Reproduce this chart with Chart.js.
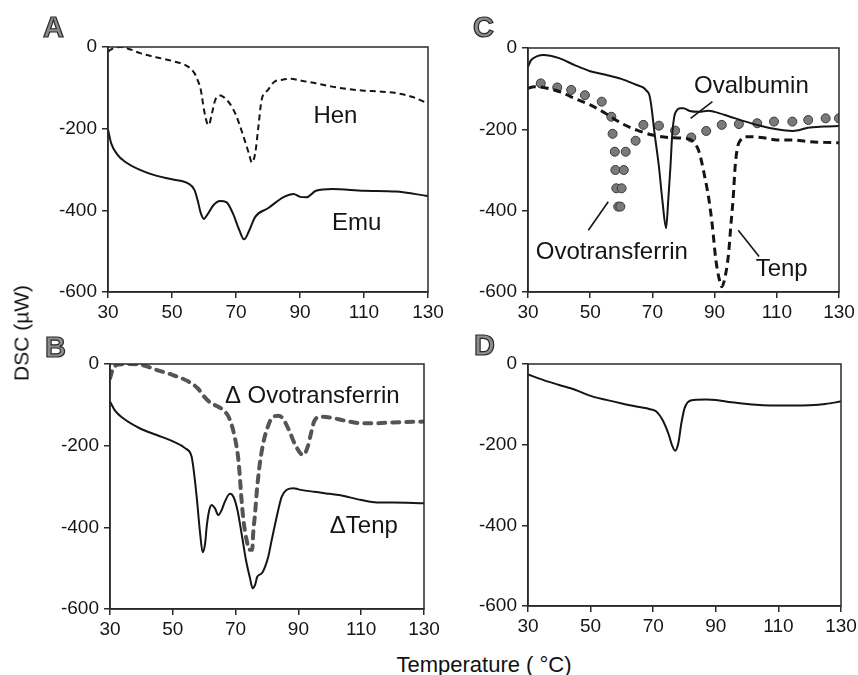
<!DOCTYPE html>
<html><head><meta charset="utf-8">
<script src="https://cdn.jsdelivr.net/npm/chart.js@4.4.1/dist/chart.umd.min.js"></script>
<style>
html,body{margin:0;padding:0;background:#fff;width:858px;height:675px;overflow:hidden;position:relative;font-family:"Liberation Sans",Arial,sans-serif;}
canvas{position:absolute;}
.lt{position:absolute;font:bold 29px "Liberation Sans",Arial,sans-serif;line-height:1;color:#8c8c8c;-webkit-text-stroke:1.2px #2a2a2a;}
.ax{position:absolute;font:21px "Liberation Sans",Arial,sans-serif;line-height:1;color:#111;white-space:nowrap;}
</style></head><body>
<canvas id="cA" width="430" height="310" style="left:30px;top:20px"></canvas>
<canvas id="cB" width="430" height="310" style="left:30px;top:337px"></canvas>
<canvas id="cC" width="430" height="310" style="left:440px;top:20px"></canvas>
<canvas id="cD" width="430" height="310" style="left:440px;top:337px"></canvas>
<div class="lt" style="left:43px;top:13px">A</div>
<div class="lt" style="left:45px;top:333px">B</div>
<div class="lt" style="left:473px;top:13px">C</div>
<div class="lt" style="left:474px;top:331px">D</div>
<div class="ax" style="left:21px;top:333px;transform:translate(-50%,-50%) rotate(-90deg);">DSC (µW)</div>
<div class="ax" style="left:484px;top:654px;font-size:22px;transform:translateX(-50%);">Temperature ( °C)</div>
<script>
// ---- axis ticks ----
const xTicks = [30, 50, 70, 90, 110, 130];
const yTicks = [-600, -400, -200, 0];

// ---- Panel A ----
const henT = [30,31,32,34,37,40,45,50,55,57,58,59,60,61,61.5,62.5,63.5,65,66,68,70,72,74,75,76,77,78,80,82,84,87,90,95,100,105,110,115,120,125,130];
const henV = [-11,-6,-2,0,-6,-15,-25,-34,-48,-64,-81,-105,-154,-187,-191,-162,-130,-119,-122,-138,-167,-211,-260,-283,-260,-195,-130,-105,-85,-81,-78,-82,-89,-97,-103,-107,-109,-113,-122,-138];
const emuT = [30,31,33,35,40,45,50,55,57,58,59,60,61,63,65,67,69,71,72.5,74,76,80,85,88,90,92,95,100,110,120,130];
const emuV = [-202,-236,-264,-279,-301,-315,-324,-334,-350,-375,-407,-421,-411,-387,-377,-380,-407,-448,-471,-452,-416,-395,-367,-360,-367,-368,-352,-348,-352,-354,-365];

// ---- Panel B ----
const dOvoT = [30,31,33,36,40,45,50,55,58,60,62,64,65.6,68.2,70.3,71,71.9,72.5,73.5,74.4,75.3,75.6,76.2,76.7,77.6,78.8,79.9,81.5,83.6,85,87,89,91.5,93,94,95,97,100,105,110,115,120,130];
const dOvoV = [-35,-11,-1,0,-2,-15,-27,-43,-60,-80,-95,-103,-110,-137,-202,-243,-333,-382,-431,-455,-455,-415,-366,-317,-251,-194,-162,-133,-127,-133,-162,-198,-223,-202,-170,-141,-129,-131,-139,-145,-145,-143,-141];
const dTenpT = [30,31.6,34.2,39.6,44.9,50.2,53.9,56,56.5,57.6,58.7,59.5,60.3,60.8,61.6,62.4,63.4,64.5,65.6,66.6,68.2,69.3,70.6,71.9,73.3,74.6,75.4,76.2,76.9,78.3,79.4,80.4,81.5,83.1,84.7,86.3,88.4,90,95,100,103,110,115,120,130];
const dTenpV = [-92,-114,-133,-158,-174,-190,-206,-227,-251,-325,-415,-461,-439,-398,-358,-345,-353,-370,-357,-337,-318,-325,-358,-415,-480,-525,-549,-541,-521,-513,-496,-472,-431,-374,-325,-308,-304,-307,-313,-318,-321,-333,-339,-339,-341];

// ---- Panel C ----
const ovalT = [30,31,33,35,40,45,50,55,60,65,67,68,69,69.6,70.7,72.1,73.2,74.4,75.1,75.8,76.4,77,77.7,79,80,82,85,88,90,95,100,105,110,115,117,120,125,130];
const ovalV = [-46,-30,-20,-17,-25,-42,-57,-66,-76,-91,-97,-104,-115,-140,-210,-292,-374,-443,-374,-292,-210,-170,-155,-148,-148,-155,-157,-154,-157,-169,-181,-192,-200,-204,-202,-196,-193,-192];
const tenpT = [30,32,35,40,45,50,55,60,63,65,70,75,80,83.1,85,86.6,88.2,89.3,90.4,92,92.3,93.6,94.5,95.2,96,96.6,97.4,98.4,100,105,110,115,120,125,130];
const tenpV = [-99,-95,-97,-107,-124,-140,-161,-185,-196,-202,-214,-220,-222,-230,-255,-308,-374,-439,-521,-583,-587,-554,-505,-439,-366,-292,-243,-226,-218,-220,-226,-226,-230,-232,-233];
const ovotT = [34.1,39.4,43.9,48.3,53.7,56.8,57.2,57.9,58.1,58.4,59.0,59.7,60.1,60.8,61.4,64.6,67.1,72.1,77.3,82.5,87.3,92.3,97.8,103.7,109.1,115,120.1,125.7,130];
const ovotV = [-87,-97,-103,-116,-132,-169,-211,-255,-300,-345,-390,-390,-345,-300,-255,-228,-189,-191,-203,-220,-204,-189,-187,-185,-181,-181,-177,-173,-173];

// ---- Panel D ----
const dT = [30,35,40,45,50,55,60,65,69,71,73,75,76,77,78,79,80,81,83,87,90,95,100,105,110,115,120,125,130];
const dV = [-26,-40,-52,-64,-79,-89,-98,-106,-112,-118,-139,-176,-201,-215,-197,-147,-110,-95,-89,-88,-89,-95,-99,-102,-103,-103,-102,-99,-93];

const pts = (T, V) => T.map((t, i) => ({x: t, y: V[i]}));
const FONT = '"Liberation Sans", Arial, sans-serif';
const INK = '#151515';

const framePlugin = {
  id: 'frame',
  afterDatasetsDraw(chart, args, opts) {
    const {ctx, chartArea: a, scales} = chart;
    const xs = scales.x, ys = scales.y;
    ctx.save();
    ctx.strokeStyle = '#2a2a2a';
    ctx.lineWidth = 1.5;
    ctx.strokeRect(a.left, a.top, a.right - a.left, a.bottom - a.top);
    ctx.strokeStyle = INK;
    ctx.lineWidth = 1.6;
    (opts.leaders || []).forEach(l => {
      ctx.beginPath();
      ctx.moveTo(xs.getPixelForValue(l.x1), ys.getPixelForValue(l.y1));
      ctx.lineTo(xs.getPixelForValue(l.x2), ys.getPixelForValue(l.y2));
      ctx.stroke();
    });
    ctx.fillStyle = INK;
    ctx.font = '24px ' + FONT;
    ctx.textAlign = 'left';
    ctx.textBaseline = 'alphabetic';
    (opts.labels || []).forEach(l => {
      ctx.fillText(l.text, xs.getPixelForValue(l.x), ys.getPixelForValue(l.y));
    });
    ctx.restore();
  }
};

function lineDs(T, V, st) {
  return Object.assign({
    data: pts(T, V), borderColor: INK, borderWidth: 2, pointRadius: 0,
    cubicInterpolationMode: 'monotone', fill: false
  }, st);
}

function makePanel(id, datasets, pad, ann) {
  new Chart(document.getElementById(id), {
    type: 'line',
    data: {datasets},
    options: {
      responsive: false, animation: false, devicePixelRatio: 1,
      layout: {padding: pad},
      plugins: {legend: {display: false}, tooltip: {enabled: false}, frame: ann},
      events: [],
      scales: {
        x: {
          type: 'linear', min: 30, max: 130,
          afterBuildTicks: s => { s.ticks = xTicks.map(v => ({value: v})); },
          afterFit: s => { s.height = 30; },
          ticks: {font: {size: 19, family: FONT}, color: INK, padding: 3, maxRotation: 0, autoSkip: false},
          grid: {display: true, drawOnChartArea: false, drawTicks: true, tickLength: 6, color: '#2a2a2a', lineWidth: 1.5},
          border: {display: true, color: '#2a2a2a', width: 1.5}
        },
        y: {
          type: 'linear', min: -600, max: 0,
          afterBuildTicks: s => { s.ticks = yTicks.map(v => ({value: v})); },
          afterFit: s => { s.width = 50; },
          ticks: {font: {size: 19, family: FONT}, color: INK, padding: 5},
          grid: {display: true, drawOnChartArea: false, drawTicks: true, tickLength: 6, color: '#2a2a2a', lineWidth: 1.5},
          border: {display: true, color: '#2a2a2a', width: 1.5}
        }
      }
    },
    plugins: [framePlugin]
  });
}

makePanel('cA', [
  lineDs(henT, henV, {borderDash: [6, 4], borderWidth: 2}),
  lineDs(emuT, emuV, {})
], {left: 28, top: 27, right: 32, bottom: 8}, {
  labels: [{text: 'Hen', x: 94.2, y: -187}, {text: 'Emu', x: 100, y: -447}]
});

makePanel('cB', [
  lineDs(dOvoT, dOvoV, {borderDash: [7, 7], borderWidth: 4, borderColor: '#555555', borderCapStyle: 'round'}),
  lineDs(dTenpT, dTenpV, {})
], {left: 30, top: 27, right: 36, bottom: 8}, {
  labels: [{text: 'Δ Ovotransferrin', x: 66.6, y: -95}, {text: 'ΔTenp', x: 100, y: -415}]
});

makePanel('cC', [
  lineDs(ovalT, ovalV, {}),
  lineDs(tenpT, tenpV, {borderDash: [8, 5], borderWidth: 3}),
  {data: pts(ovotT, ovotV), showLine: false, pointRadius: 4.5, pointBackgroundColor: '#7a7a7a', pointBorderColor: '#3a3a3a', pointBorderWidth: 1}
], {left: 38, top: 28, right: 31, bottom: 8}, {
  labels: [{text: 'Ovalbumin', x: 83.4, y: -111}, {text: 'Ovotransferrin', x: 32.5, y: -519}, {text: 'Tenp', x: 103.2, y: -561}],
  leaders: [
    {x1: 89.3, y1: -132, x2: 82.3, y2: -173},
    {x1: 55.8, y1: -378, x2: 49.4, y2: -448},
    {x1: 97.6, y1: -448, x2: 104.3, y2: -513}
  ]
});

makePanel('cD', [
  lineDs(dT, dV, {})
], {left: 38, top: 27, right: 29, bottom: 11}, {});
</script>
</body></html>
